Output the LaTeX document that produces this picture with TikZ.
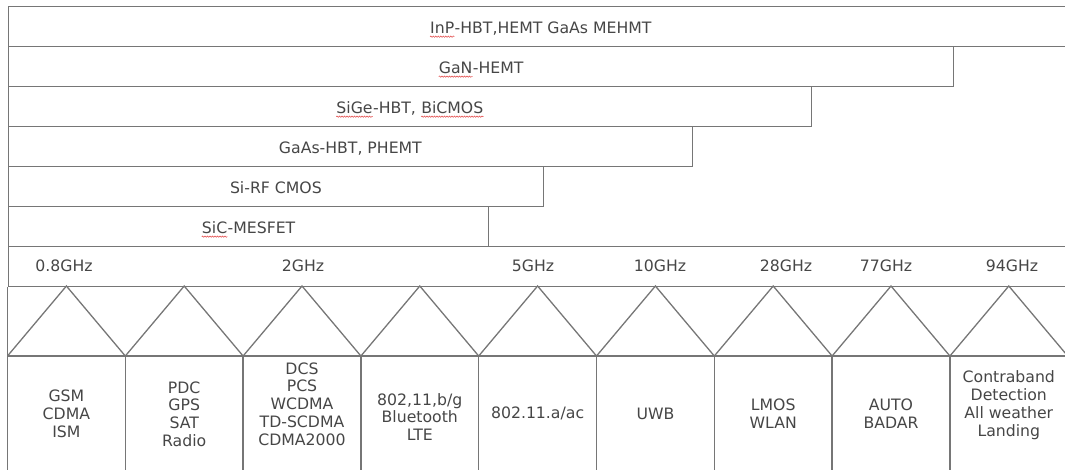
\documentclass[tikz,border=0pt]{standalone}
\usepackage{fontspec}
\newfontfamily\dejavu{DejaVu Sans}
\usetikzlibrary{decorations.pathmorphing}
\definecolor{linegray}{RGB}{118,118,118}
\definecolor{textgray}{RGB}{70,70,70}
\definecolor{spellred}{RGB}{225,70,70}
\newcommand{\spell}[1]{\tikz[baseline=(w.base)]{\node[draw=none,inner sep=0pt,minimum size=0pt,text height=,text depth=,anchor=center] (w) {#1};
  \draw[spellred,line width=0.5pt,decorate,decoration={snake,amplitude=0.7pt,segment length=2.5pt}] ([yshift=-3pt]w.base west) -- ([yshift=-3pt]w.base east);}}

\begin{document}
\begin{tikzpicture}[x=1pt,y=-1pt,
  lab/.style={font=\dejavu\fontsize{15.7pt}{17.8pt}\selectfont,text=textgray,inner sep=0pt},
  edge/.style={draw=linegray,line width=1.3pt},
  bar/.style={lab,edge,anchor=north west,minimum height=40pt,text height=14pt,text depth=0pt},
  freq/.style={lab,anchor=base},
  app/.style={lab,align=center}]
\useasboundingbox (0,0) rectangle (1065,469);
\clip (0,0) rectangle (1065,469);
\node[bar,minimum width=1065pt] (inp) at (7.5,6) {\spell{InP}-HBT,HEMT GaAs MEHMT};
\node[bar,minimum width=945.5pt] (gan) at (7.5,46) {\spell{GaN}-HEMT};
\node[bar,minimum width=803.5pt] (sige) at (7.5,86) {\spell{SiGe}-HBT, \spell{BiCMOS}};
\node[bar,minimum width=684.5pt] (gaas) at (7.5,126) {GaAs-HBT, PHEMT};
\node[bar,minimum width=535.5pt] (sirf) at (7.5,166) {Si-RF CMOS};
\node[bar,minimum width=480.5pt] (sic) at (7.5,206) {\spell{SiC}-MESFET};
\node[edge,anchor=north west,minimum width=1065pt,minimum height=40pt,inner sep=0pt] (band) at (7.5,246) {};
\foreach \x/\t [count=\i] in {64/0.8GHz,303/2GHz,533/5GHz,660/10GHz,786/28GHz,886/77GHz,1012/94GHz}{\node[freq] (f\i) at (\x,271) {\t};}
\foreach \k in {0,...,9}{\coordinate (b\k) at (7.5+117.8*\k,356);}
\foreach \k in {0,...,8}{\coordinate (p\k) at (66.4+117.8*\k,286);}
\draw[edge] (band.south west) -- (b0) -- (b9);
\foreach \k [evaluate=\k as \n using int(\k+1)] in {0,...,8}{\draw[edge,line join=miter] (b\k) -- (p\k) -- (b\n); \draw[edge] (b\k) -- ++(0,120);}
\foreach \k/\y/\t in {0/414/{GSM\\CDMA\\ISM},1/414/{PDC\\GPS\\SAT\\Radio},2/404/{DCS\\PCS\\WCDMA\\TD-SCDMA\\CDMA2000},3/417/{802,11,b/g\\Bluetooth\\LTE},4/413.5/{802.11.a/ac},5/413.5/{UWB},6/413.5/{LMOS\\WLAN},7/413.5/{AUTO\\BADAR},8/405/{Contraband\\Detection\\All weather\\Landing}}{\node[app] (app\k) at (66.4+117.8*\k,\y) {\t};}
\end{tikzpicture}
\end{document}
